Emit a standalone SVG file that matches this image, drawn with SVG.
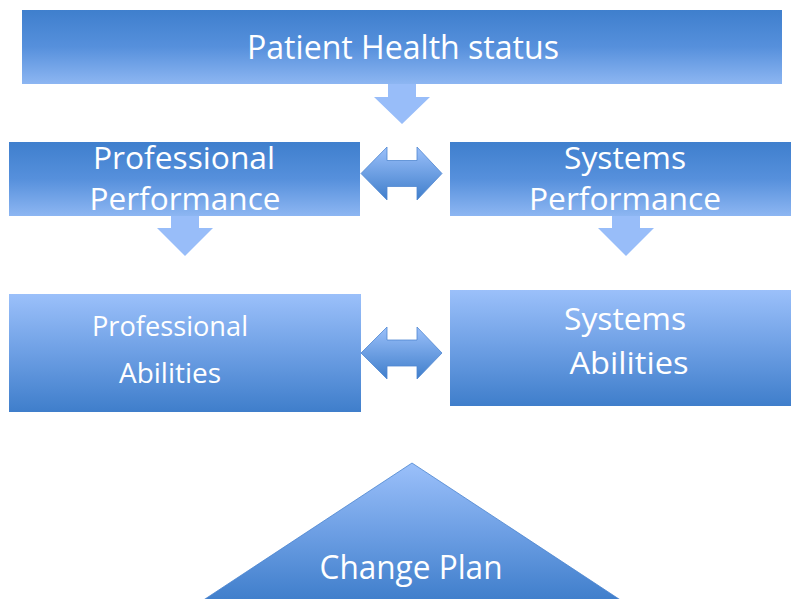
<svg xmlns="http://www.w3.org/2000/svg" width="791" height="599" viewBox="0 0 791 599">
<defs>
<linearGradient id="gDown" x1="0" y1="0" x2="0" y2="1">
<stop offset="0" stop-color="#3f7fcd"/>
<stop offset="0.5" stop-color="#5690dc"/>
<stop offset="1" stop-color="#8db6f2"/>
</linearGradient>
<linearGradient id="gUp" x1="0" y1="0" x2="0" y2="1">
<stop offset="0" stop-color="#9bc0fa"/>
<stop offset="0.5" stop-color="#6d9fe4"/>
<stop offset="1" stop-color="#3f7ecb"/>
</linearGradient>
<linearGradient id="gArrow" x1="0" y1="0" x2="0" y2="1">
<stop offset="0" stop-color="#9bc0fa"/>
<stop offset="1" stop-color="#3f7ecb"/>
</linearGradient>
</defs>
<style>
.dn{fill:url(#gDown);}
.up{fill:url(#gUp);}
.tri{fill:url(#gUp);stroke:#4a84cf;stroke-width:0.8;}
.dbl{fill:url(#gArrow);stroke:#4f87d0;stroke-width:0.8;}
.down{fill:#98bdf9;}
text{font-family:"Open Sans","Noto Sans","Liberation Sans",sans-serif;fill:#ffffff;text-anchor:middle;}
</style>
<rect width="791" height="599" fill="#ffffff"/>
<g id="patient-health-status">
<rect class="dn" x="22" y="10" width="760" height="74"/>
<text x="403" y="59" font-size="33" textLength="312" lengthAdjust="spacingAndGlyphs">Patient Health status</text>
</g>
<g id="professional-performance">
<rect class="dn" x="9" y="142" width="351" height="74"/>
<text x="184" y="169" font-size="31" textLength="182" lengthAdjust="spacingAndGlyphs">Professional</text>
<text x="185" y="210" font-size="31" textLength="191" lengthAdjust="spacingAndGlyphs">Performance</text>
</g>
<g id="systems-performance">
<rect class="dn" x="450" y="142" width="341" height="74"/>
<text x="625" y="169" font-size="31" textLength="122" lengthAdjust="spacingAndGlyphs">Systems</text>
<text x="625" y="210" font-size="31" textLength="192" lengthAdjust="spacingAndGlyphs">Performance</text>
</g>
<g id="professional-abilities">
<rect class="up" x="9" y="294" width="352" height="118"/>
<text x="170" y="336" font-size="27" textLength="156" lengthAdjust="spacingAndGlyphs">Professional</text>
<text x="170" y="383" font-size="27" textLength="102" lengthAdjust="spacingAndGlyphs">Abilities</text>
</g>
<g id="systems-abilities">
<rect class="up" x="450" y="290" width="341" height="116"/>
<text x="625" y="330" font-size="31" textLength="122" lengthAdjust="spacingAndGlyphs">Systems</text>
<text x="629" y="374" font-size="31" textLength="119" lengthAdjust="spacingAndGlyphs">Abilities</text>
</g>
<g id="change-plan">
<polygon class="tri" points="412,463 622,601 202,601"/>
<text x="411" y="579" font-size="32" textLength="183" lengthAdjust="spacingAndGlyphs">Change Plan</text>
</g>
<g id="connectors">
<polygon class="down" points="388,84 416,84 416,97 430,97 402,124 374,97 388,97"/>
<polygon class="down" points="171,216 199,216 199,228 213,228 185,256 157,228 171,228"/>
<polygon class="down" points="612,216 640,216 640,228 654,228 626,256 598,228 612,228"/>
<polygon class="dbl" points="361,173.5 387,147 387,160.5 417,160.5 417,147 442,173.5 417,200 417,186.5 387,186.5 387,200"/>
<polygon class="dbl" points="361,353 387,327 387,340 417,340 417,327 442,353 417,379 417,366 387,366 387,379"/>
</g>
</svg>
